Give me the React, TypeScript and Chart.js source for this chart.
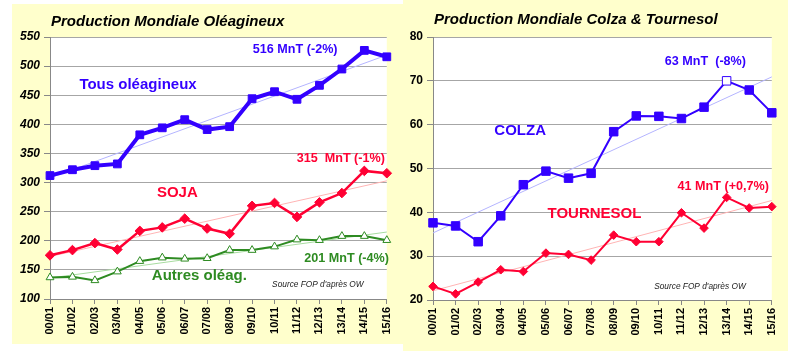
import React, { useEffect, useRef } from 'react';
import { Chart, registerables } from 'chart.js';

Chart.register(...registerables);

// ---------- DATA ----------
const seasons = ['00/01', '01/02', '02/03', '03/04', '04/05', '05/06', '06/07', '07/08', '08/09', '09/10', '10/11', '11/12', '12/13', '13/14', '14/15', '15/16'];

// Left chart (Mt)
const tousOleagineux = [312, 322, 329, 332, 382, 394, 408, 391, 396, 444, 456, 443, 467, 495, 527, 516];
const soja = [175, 184, 196, 185, 217, 223, 238, 221, 212, 260, 265, 241, 266, 282, 320, 316];
const autresOleag = [137, 138, 132, 147, 165, 171, 169, 170, 184, 184, 190, 202, 201, 208, 208, 201];
const trendTous = [308, 519];
const trendSoja = [173, 303];
const trendAutres = [136, 215];
const leftTicks = [100, 150, 200, 250, 300, 350, 400, 450, 500, 550];

// Right chart (Mt)
const colza = [37.6, 36.9, 33.3, 39.2, 46.3, 49.4, 47.8, 48.9, 58.4, 62.0, 61.9, 61.4, 64.0, 70.0, 67.9, 62.7];
const tournesol = [23.1, 21.4, 24.1, 26.9, 26.5, 30.7, 30.4, 29.1, 34.8, 33.3, 33.3, 39.9, 36.4, 43.4, 41.0, 41.3];
const trendColza = [35.3, 70.9];
const trendTournesol = [22.1, 42.7];
const rightTicks = [20, 30, 40, 50, 60, 70, 80];
const colzaOpenIndex = 13;

// ---------- STYLE ----------
const FONT = "'Liberation Sans', Arial, sans-serif";
const BLUE = '#3300FF';
const RED = '#FF0033';
const GREEN = '#2E8B22';
const PANEL = '#FFFFCC';
const GRID = '#A6A6A6';

type Note = { text: string; idx: number; val: number; color: string; font: string };

const leftNotes: Note[] = [
  { text: '516 MnT (-2%)', idx: 10.92, val: 527.7, color: BLUE, font: `bold 12.6px ${FONT}` },
  { text: 'Tous oléagineux', idx: 3.92, val: 467.6, color: BLUE, font: `bold 15px ${FONT}` },
  { text: '315  MnT (-1%)', idx: 12.95, val: 340.5, color: RED, font: `bold 12.6px ${FONT}` },
  { text: 'SOJA', idx: 5.67, val: 282, color: RED, font: `bold 15px ${FONT}` },
  { text: '201 MnT (-4%)', idx: 13.21, val: 168.7, color: GREEN, font: `bold 12.6px ${FONT}` },
  { text: 'Autres oléag.', idx: 6.65, val: 139.5, color: GREEN, font: `bold 15px ${FONT}` },
  { text: "Source FOP d'après OW", idx: 11.93, val: 124, color: '#222', font: `italic 8.3px ${FONT}` },
];

const rightNotes: Note[] = [
  { text: '63 MnT  (-8%)', idx: 12.06, val: 74.3, color: BLUE, font: `bold 12.6px ${FONT}` },
  { text: 'COLZA', idx: 3.86, val: 58.6, color: BLUE, font: `bold 15px ${FONT}` },
  { text: '41 MnT (+0,7%)', idx: 12.85, val: 46.0, color: RED, font: `bold 12.6px ${FONT}` },
  { text: 'TOURNESOL', idx: 7.15, val: 39.7, color: RED, font: `bold 15px ${FONT}` },
  { text: "Source FOP d'après OW", idx: 11.82, val: 23.0, color: '#222', font: `italic 8.3px ${FONT}` },
];

const bgPlugin = {
  id: 'panelBg',
  beforeDraw(chart: any) {
    const { ctx, chartArea: a, width, height } = chart;
    ctx.save();
    ctx.fillStyle = PANEL;
    ctx.fillRect(0, 0, width, height);
    ctx.fillStyle = '#FFFFFF';
    ctx.fillRect(a.left, a.top, a.right - a.left, a.bottom - a.top);
    ctx.restore();
  },
};

function textPlugin(title: string, titleY: number, notes: Note[]) {
  return {
    id: 'texts',
    afterDraw(chart: any) {
      const { ctx, chartArea: a, scales } = chart;
      ctx.save();
      ctx.textBaseline = 'middle';
      ctx.textAlign = 'left';
      ctx.fillStyle = '#000';
      ctx.font = `italic bold 15px ${FONT}`;
      ctx.fillText(title, a.left + 1, titleY);
      ctx.textAlign = 'center';
      for (const n of notes) {
        ctx.font = n.font;
        ctx.fillStyle = n.color;
        ctx.fillText(n.text, scales.x.getPixelForValue(n.idx), scales.y.getPixelForValue(n.val));
      }
      ctx.restore();
    },
  };
}

function trend(values: number[]) {
  return [
    { x: seasons[0], y: values[0] },
    { x: seasons[seasons.length - 1], y: values[1] },
  ];
}

function trendDataset(values: number[], color: string) {
  return {
    data: trend(values),
    borderColor: color,
    borderWidth: 1,
    pointRadius: 0,
    fill: false,
  };
}

function scalesFor(ticks: number[], yWidth: number, xHeight: number, italic: boolean) {
  return {
    x: {
      type: 'category',
      offset: false,
      grid: { display: true, drawOnChartArea: false, color: '#888', tickLength: 5 },
      border: { color: '#888' },
      ticks: {
        autoSkip: false,
        maxRotation: 90,
        minRotation: 90,
        padding: 3,
        color: '#000',
        font: { family: FONT, size: 11, weight: 'bold' },
      },
      afterFit(s: any) {
        s.height = xHeight;
      },
    },
    y: {
      min: ticks[0],
      max: ticks[ticks.length - 1],
      afterBuildTicks(s: any) {
        s.ticks = ticks.map((v) => ({ value: v }));
      },
      grid: { color: GRID, tickLength: 6, tickColor: '#888' },
      border: { color: '#888' },
      ticks: {
        padding: 4,
        color: '#000',
        font: { family: FONT, size: 12, weight: 'bold', style: italic ? 'italic' : 'normal' },
      },
      afterFit(s: any) {
        s.width = yWidth;
      },
    },
  };
}

function leftConfig(): any {
  return {
    type: 'line',
    data: {
      labels: seasons,
      datasets: [
        {
          data: tousOleagineux,
          borderColor: BLUE,
          backgroundColor: BLUE,
          borderWidth: 4,
          pointStyle: 'rect',
          pointRadius: 5.5,
          pointBorderWidth: 1,
          pointBackgroundColor: BLUE,
          pointBorderColor: BLUE,
        },
        {
          data: soja,
          borderColor: RED,
          backgroundColor: RED,
          borderWidth: 2.5,
          pointStyle: 'rectRot',
          pointRadius: 4.8,
          pointBorderWidth: 1,
          pointBackgroundColor: RED,
          pointBorderColor: RED,
        },
        {
          data: autresOleag,
          borderColor: GREEN,
          backgroundColor: '#FFFFFF',
          borderWidth: 2,
          pointStyle: 'triangle',
          pointRadius: 4.5,
          pointBorderWidth: 1,
          pointBackgroundColor: '#FFFFFF',
          pointBorderColor: GREEN,
        },
        trendDataset(trendTous, '#B4B4FF'),
        trendDataset(trendSoja, '#FFB4B4'),
        trendDataset(trendAutres, '#A8DCA0'),
      ],
    },
    options: {
      responsive: false,
      animation: false,
      layout: { padding: { left: 0, right: 7, top: 33, bottom: 0 } },
      plugins: { legend: { display: false }, tooltip: { enabled: false }, title: { display: false } },
      scales: scalesFor(leftTicks, 38, 45, true),
    },
    plugins: [bgPlugin, textPlugin('Production Mondiale Oléagineux', 18, leftNotes)],
  };
}

function rightConfig(): any {
  return {
    type: 'line',
    data: {
      labels: seasons,
      datasets: [
        {
          data: colza,
          borderColor: BLUE,
          backgroundColor: BLUE,
          borderWidth: 2,
          pointStyle: 'rect',
          pointRadius: 6,
          pointBorderWidth: 1,
          pointBackgroundColor: colza.map((_, i) => (i === colzaOpenIndex ? '#FFFFFF' : BLUE)),
          pointBorderColor: BLUE,
        },
        {
          data: tournesol,
          borderColor: RED,
          backgroundColor: RED,
          borderWidth: 2,
          pointStyle: 'rectRot',
          pointRadius: 4.3,
          pointBorderWidth: 1,
          pointBackgroundColor: RED,
          pointBorderColor: RED,
        },
        trendDataset(trendColza, '#B4B4FF'),
        trendDataset(trendTournesol, '#FFB4B4'),
      ],
    },
    options: {
      responsive: false,
      animation: false,
      layout: { padding: { left: 0, right: 12, top: 37, bottom: 0 } },
      plugins: { legend: { display: false }, tooltip: { enabled: false }, title: { display: false } },
      scales: scalesFor(rightTicks, 30, 51, false),
    },
    plugins: [bgPlugin, textPlugin('Production Mondiale Colza & Tournesol', 20, rightNotes)],
  };
}

function Panel(props: { left: number; top: number; width: number; height: number; make: () => any }) {
  const ref = useRef<HTMLCanvasElement | null>(null);
  useEffect(() => {
    if (!ref.current) return;
    const chart = new Chart(ref.current, props.make());
    return () => chart.destroy();
  }, []);
  return (
    <canvas
      ref={ref}
      width={props.width}
      height={props.height}
      style={{ position: 'absolute', left: props.left, top: props.top, width: props.width, height: props.height }}
    />
  );
}

export default function App() {
  return (
    <div style={{ position: 'absolute', left: 0, top: 0, width: 795, height: 351, background: '#FFFFFF', overflow: 'hidden' }}>
      <Panel left={12} top={4} width={391} height={340} make={leftConfig} />
      <Panel left={403} top={0} width={385} height={351} make={rightConfig} />
    </div>
  );
}
